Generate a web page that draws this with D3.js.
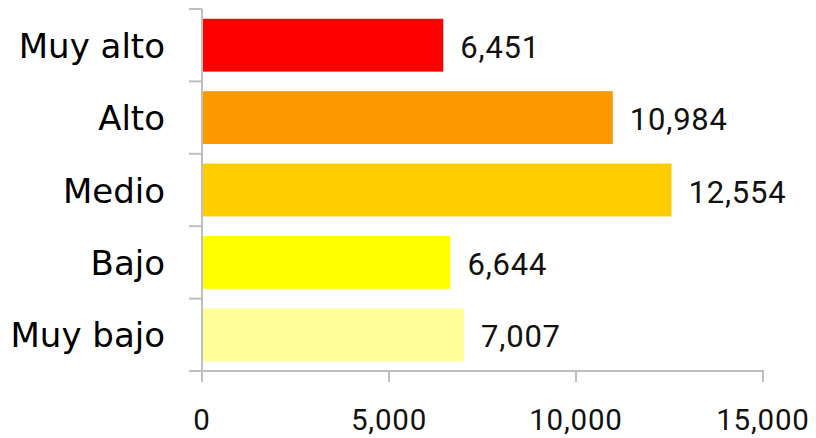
<!DOCTYPE html>
<html><head><meta charset="utf-8">
<script src="https://cdn.jsdelivr.net/npm/d3@7"></script>
<style>body{margin:0;background:#fff}</style>
</head><body>
<svg id="c" width="816" height="438"></svg>
<script>
const categories = ["Muy alto","Alto","Medio","Bajo","Muy bajo"];
const values = [6451,10984,12554,6644,7007];
const colors = ["#FF0000","#FF9900","#FFCC00","#FFFF00","#FFFF99"];
const xTicks = [0,5000,10000,15000];

const svg = d3.select("#c");
const x = d3.scaleLinear().domain([0,15000]).range([202,763]);
const y = d3.scaleBand().domain(categories).range([9,371]).paddingInner(0.27).paddingOuter(0.135);
const fmt = d3.format(",");
const axisColor = "#BFBFBF";

// bars
svg.selectAll("rect.bar").data(categories).join("rect")
  .attr("class","bar")
  .attr("x", x(0))
  .attr("y", d=>y(d))
  .attr("width", (d,i)=>x(values[i])-x(0))
  .attr("height", y.bandwidth())
  .attr("fill", (d,i)=>colors[i]);

// y axis line + boundary ticks
const step = y.step();
const y0 = y.range()[0];
svg.append("line").attr("x1",x(0)).attr("x2",x(0)).attr("y1",y0).attr("y2",y.range()[1])
  .attr("stroke",axisColor).attr("stroke-width",2);
d3.range(categories.length+1).forEach(i=>{
  svg.append("line").attr("x1",x(0)-13).attr("x2",x(0)).attr("y1",y0+i*step).attr("y2",y0+i*step)
    .attr("stroke",axisColor).attr("stroke-width",2);
});

// x axis
svg.append("line").attr("x1",x(0)-1).attr("x2",x(15000)+1).attr("y1",y.range()[1]).attr("y2",y.range()[1])
  .attr("stroke",axisColor).attr("stroke-width",2);
svg.selectAll("line.xt").data(xTicks).join("line").attr("class","xt")
  .attr("x1",d=>x(d)).attr("x2",d=>x(d)).attr("y1",y.range()[1]).attr("y2",y.range()[1]+11)
  .attr("stroke",axisColor).attr("stroke-width",2);
svg.selectAll("text.xl").data(xTicks).join("text").attr("class","xl")
  .attr("x",d=>x(d)).attr("y",430)
  .attr("text-anchor","middle")
  .attr("font-family","Roboto, sans-serif").attr("font-size",29.5)
  .attr("letter-spacing","0.8px")
  .attr("fill","#111")
  .text(d=>fmt(d));

// category labels
svg.selectAll("text.cl").data(categories).join("text").attr("class","cl")
  .attr("x",165).attr("y",d=>y(d)+y.bandwidth()/2+12.5)
  .attr("text-anchor","end")
  .attr("font-family","'DejaVu Sans', sans-serif").attr("font-size",34)
  .attr("fill","#000")
  .text(d=>d);

// value labels
svg.selectAll("text.vl").data(categories).join("text").attr("class","vl")
  .attr("x",(d,i)=>x(values[i])+17).attr("y",d=>y(d)+y.bandwidth()/2+12.5)
  .attr("font-family","Roboto, sans-serif").attr("font-size",31)
  .attr("letter-spacing","0.8px")
  .attr("fill","#111")
  .text((d,i)=>fmt(values[i]));
</script>
</body></html>
